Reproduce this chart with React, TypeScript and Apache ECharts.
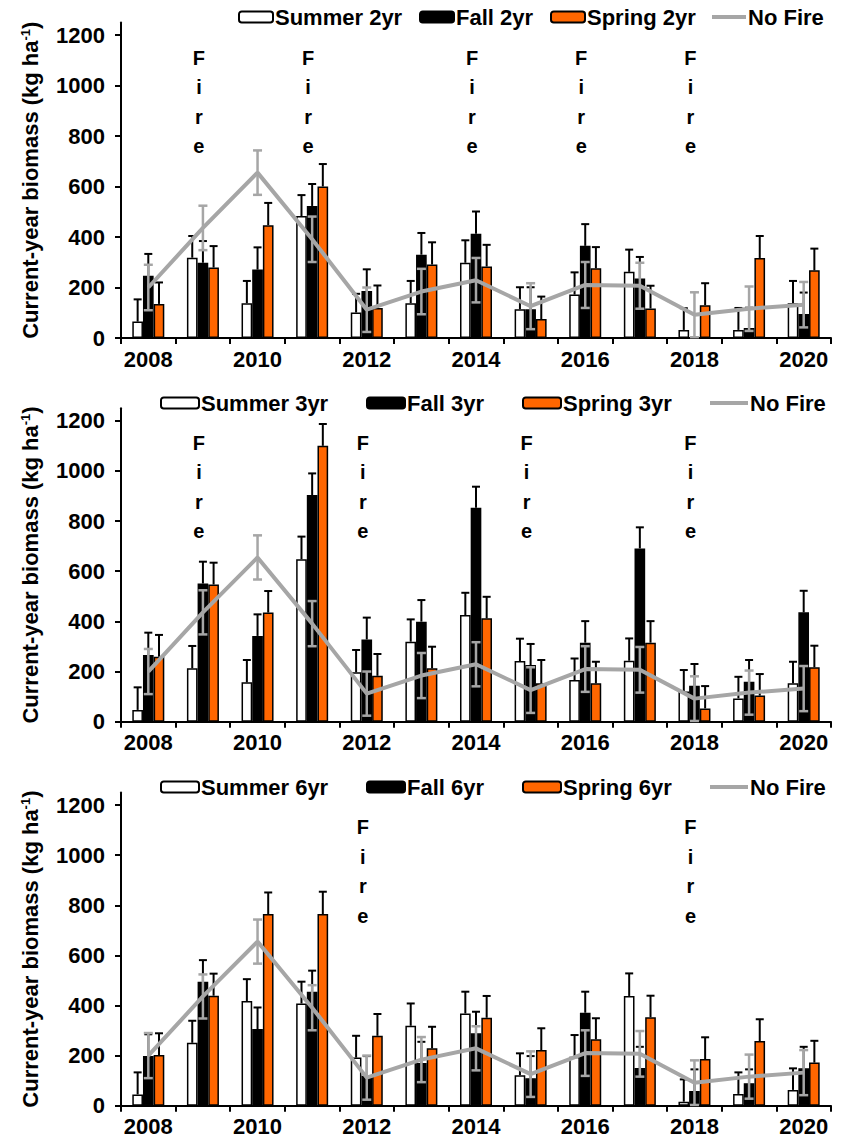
import React, { useEffect, useRef } from 'react';
import * as echarts from 'echarts';

// ---------- data ----------
const years = ['2008', '2009', '2010', '2011', '2012', '2013', '2014', '2015', '2016', '2017', '2018', '2019', '2020'];
const yTicks = [0, 200, 400, 600, 800, 1000, 1200];

const noFire = [200, 436, 655, 391, 112, 184, 229, 126, 210, 207, 92, 116, 132];
const noFireErr = [90, 88, 88, 90, 88, 90, 88, 91, 91, 91, 89, 88, 90];

// 2-yr interval
const summer2yr = [65, 318, 138, 483, 101, 138, 298, 114, 172, 262, 32, 32, 138];
const summer2yrTop = [153, 404, 226, 566, 175, 226, 387, 201, 260, 350, 118, 119, 226];
const fall2yr = [247, 298, 271, 523, 186, 330, 413, 114, 365, 236, 0, 40, 95];
const fall2yrTop = [333, 384, 359, 610, 272, 416, 501, 201, 451, 321, null, 120, 180];
const spring2yr = [135, 279, 447, 600, 119, 291, 283, 75, 276, 117, 130, 317, 268];
const spring2yrTop = [220, 364, 535, 689, 208, 379, 369, 164, 360, 207, 217, 404, 354];
const fire2yr = ['2009', '2011', '2014', '2016', '2018'];

// 3-yr interval
const summer3yr = [47, 213, 157, 648, 197, 319, 425, 242, 166, 243, 120, 93, 153];
const summer3yrTop = [137, 302, 246, 738, 286, 408, 514, 331, 252, 332, 206, 179, 239];
const fall3yr = [266, 551, 342, 904, 328, 399, 853, 226, 315, 691, 143, 159, 436];
const fall3yrTop = [355, 638, 428, 990, 415, 485, 937, 310, 401, 775, 230, 246, 522];
const spring3yr = [259, 547, 435, 1100, 183, 213, 412, 153, 153, 315, 53, 104, 217];
const spring3yrTop = [346, 634, 521, 1187, 270, 299, 498, 246, 239, 401, 142, 190, 303];
const fire3yr = ['2009', '2012', '2015', '2018'];

// 6-yr interval
const summer6yr = [45, 251, 418, 408, 192, 319, 368, 122, 195, 438, 16, 47, 63];
const summer6yrTop = [133, 339, 505, 495, 279, 408, 455, 209, 282, 528, 105, 133, 149];
const fall6yr = [198, 495, 306, 455, 120, 170, 289, 110, 371, 150, 59, 90, 149];
const fall6yrTop = [285, 581, 392, 539, 198, 255, 375, 198, 455, 235, 145, 145, 235];
const spring6yr = [202, 439, 765, 765, 279, 229, 351, 222, 265, 353, 186, 258, 172];
const spring6yrTop = [289, 527, 851, 854, 366, 315, 438, 309, 349, 439, 273, 345, 259];
const fire6yr = ['2012', '2018'];

// ---------- styling / layout ----------
const FONT = 'Liberation Sans';
const GAP = 0.414;
const ORANGE = '#FF6600';
const GRAY = '#A6A6A6';
const FIRE_LEVEL = 935;

const panels = [
  { suffix: '2yr', s: summer2yr, sT: summer2yrTop, f: fall2yr, fT: fall2yrTop, p: spring2yr, pT: spring2yrTop, fire: fire2yr },
  { suffix: '3yr', s: summer3yr, sT: summer3yrTop, f: fall3yr, fT: fall3yrTop, p: spring3yr, pT: spring3yrTop, fire: fire3yr },
  { suffix: '6yr', s: summer6yr, sT: summer6yrTop, f: fall6yr, fT: fall6yrTop, p: spring6yr, pT: spring6yrTop, fire: fire6yr },
];

const layout = [
  { top: 22.4, height: 315.6, legendMid: 18, lefts: [238, 419, 550, 712], iw: 34 },
  { top: 408.2, height: 313.5, legendMid: 404, lefts: [160, 366, 522, 710], iw: 38 },
  { top: 792.5, height: 313.2, legendMid: 788, lefts: [160, 366, 522, 710], iw: 38 },
];

const makeBarErr = (k: number) => (params: any, api: any) => {
  const idx = api.value(0);
  const hi = api.value(1);
  const lo = api.value(2);
  const band = api.size([1, 0])[0];
  const bw = (band * (1 - GAP)) / 3;
  const pHi = api.coord([idx, hi]);
  const pLo = api.coord([idx, lo]);
  const x = pHi[0] + (k - 1) * bw;
  const st = { stroke: '#000', lineWidth: 2 };
  return {
    type: 'group',
    children: [
      { type: 'line', shape: { x1: x, y1: pLo[1], x2: x, y2: pHi[1] }, style: st },
      { type: 'line', shape: { x1: x - 4, y1: pHi[1], x2: x + 4, y2: pHi[1] }, style: st },
    ],
  };
};

const grayErr = (params: any, api: any) => {
  const idx = api.value(0);
  const hi = api.value(1);
  const lo = api.value(2);
  const pHi = api.coord([idx, hi]);
  const pLo = api.coord([idx, lo]);
  const x = pHi[0];
  const st = { stroke: GRAY, lineWidth: 2.5 };
  return {
    type: 'group',
    children: [
      { type: 'line', shape: { x1: x, y1: pLo[1], x2: x, y2: pHi[1] }, style: st },
      { type: 'line', shape: { x1: x - 4.5, y1: pHi[1], x2: x + 4.5, y2: pHi[1] }, style: st },
      { type: 'line', shape: { x1: x - 4.5, y1: pLo[1], x2: x + 4.5, y2: pLo[1] }, style: st },
    ],
  };
};

const fireText = (params: any, api: any) => {
  const idx = api.value(0);
  const p = api.coord([idx, api.value(1)]);
  return {
    type: 'text',
    x: p[0] - 4,
    y: p[1],
    style: {
      text: 'F\ni\nr\ne',
      fill: '#000',
      fontSize: 20,
      fontWeight: 'bold',
      fontFamily: FONT,
      lineHeight: 29.5,
      align: 'center',
      verticalAlign: 'middle',
    },
  };
};

function errData(vals: number[], tops: (number | null)[]) {
  const out: any[] = [];
  vals.forEach((v, i) => {
    const t = tops[i];
    if (t !== null && t !== undefined) out.push([i, t, v]);
  });
  return out;
}

function buildOption() {
  const grid: any[] = [];
  const xAxis: any[] = [];
  const yAxis: any[] = [];
  const series: any[] = [];
  const legend: any[] = [];

  panels.forEach((pn, pi) => {
    const L = layout[pi];
    grid.push({ left: 121, width: 710, top: L.top, height: L.height });
    xAxis.push({
      type: 'category',
      gridIndex: pi,
      data: years,
      boundaryGap: true,
      axisLine: { lineStyle: { color: '#000', width: 2 } },
      axisTick: { show: true, interval: 0, alignWithLabel: false, length: 6, lineStyle: { color: '#000', width: 2 } },
      axisLabel: { interval: 1, margin: 10, color: '#000', fontSize: 22, fontWeight: 'bold', fontFamily: FONT },
      splitLine: { show: false },
    });
    yAxis.push({
      type: 'value',
      gridIndex: pi,
      min: 0,
      max: 1250,
      name: 'Current-year biomass (kg ha{sup|-1})',
      nameLocation: 'middle',
      nameGap: 79,
      nameTextStyle: {
        color: '#000',
        fontSize: 22,
        fontWeight: 'bold',
        fontFamily: FONT,
        rich: {
          sup: { fontSize: 13, fontWeight: 'bold', fontFamily: FONT, color: '#000', verticalAlign: 'top', padding: [0, 0, 10, 0] },
        },
      },
      axisLine: { show: true, lineStyle: { color: '#000', width: 2 } },
      axisTick: { show: true, length: 6, customValues: yTicks, lineStyle: { color: '#000', width: 2 } },
      axisLabel: {
        customValues: yTicks,
        margin: 16,
        color: '#000',
        fontSize: 22,
        fontWeight: 'bold',
        fontFamily: FONT,
        formatter: (v: number) => String(v),
      },
      splitLine: { show: false },
    });

    const names = [`Summer ${pn.suffix}`, `Fall ${pn.suffix}`, `Spring ${pn.suffix}`, 'No Fire'];
    const fills = ['#FFFFFF', '#000000', ORANGE];
    const vals = [pn.s, pn.f, pn.p];
    const tops = [pn.sT, pn.fT, pn.pT];

    vals.forEach((v, k) => {
      series.push({
        type: 'bar',
        name: names[k],
        xAxisIndex: pi,
        yAxisIndex: pi,
        data: v,
        barGap: '0%',
        barCategoryGap: `${GAP * 100}%`,
        itemStyle: { color: fills[k], borderColor: '#000', borderWidth: 1.5 },
        z: 2,
        silent: true,
      });
    });
    vals.forEach((v, k) => {
      series.push({
        type: 'custom',
        name: `${names[k]} err`,
        xAxisIndex: pi,
        yAxisIndex: pi,
        data: errData(v, tops[k]),
        encode: { x: 0, y: [1, 2] },
        renderItem: makeBarErr(k),
        z: 3,
        silent: true,
      });
    });
    series.push({
      type: 'line',
      name: 'No Fire',
      xAxisIndex: pi,
      yAxisIndex: pi,
      data: noFire,
      symbol: 'none',
      lineStyle: { color: GRAY, width: 4 },
      itemStyle: { color: GRAY },
      z: 4,
      silent: true,
    });
    series.push({
      type: 'custom',
      name: 'No Fire err',
      xAxisIndex: pi,
      yAxisIndex: pi,
      data: noFire.map((v, i) => [i, v + noFireErr[i], v - noFireErr[i]]),
      encode: { x: 0, y: [1, 2] },
      renderItem: grayErr,
      z: 5,
      silent: true,
    });
    series.push({
      type: 'custom',
      name: 'Fire',
      xAxisIndex: pi,
      yAxisIndex: pi,
      data: pn.fire.map((y) => [years.indexOf(y), FIRE_LEVEL]),
      encode: { x: 0, y: 1 },
      renderItem: fireText,
      z: 6,
      silent: true,
    });

    names.forEach((nm, k) => {
      const isLine = k === 3;
      legend.push({
        data: isLine ? [{ name: nm, icon: 'rect', itemStyle: { color: GRAY, borderWidth: 0 } }] : [nm],
        left: L.lefts[k],
        top: L.legendMid - 12,
        itemWidth: L.iw,
        itemHeight: isLine ? 4 : 11,
        itemGap: 0,
        padding: 0,
        selectedMode: false,
        textStyle: { color: '#000', fontSize: 22, fontWeight: 'bold', fontFamily: FONT, padding: [0, 0, 0, -3] },
      });
    });
  });

  return {
    animation: false,
    backgroundColor: '#fff',
    textStyle: { fontFamily: FONT },
    grid,
    xAxis,
    yAxis,
    legend,
    series,
  };
}

export default function App() {
  const ref = useRef<HTMLDivElement>(null);
  useEffect(() => {
    if (!ref.current) return;
    const chart = echarts.init(ref.current, null, { renderer: 'svg' });
    chart.setOption(buildOption() as any);
    return () => chart.dispose();
  }, []);
  return (
    <div
      ref={ref}
      style={{ position: 'absolute', left: 0, top: 0, width: 844, height: 1144, background: '#fff' }}
    />
  );
}
